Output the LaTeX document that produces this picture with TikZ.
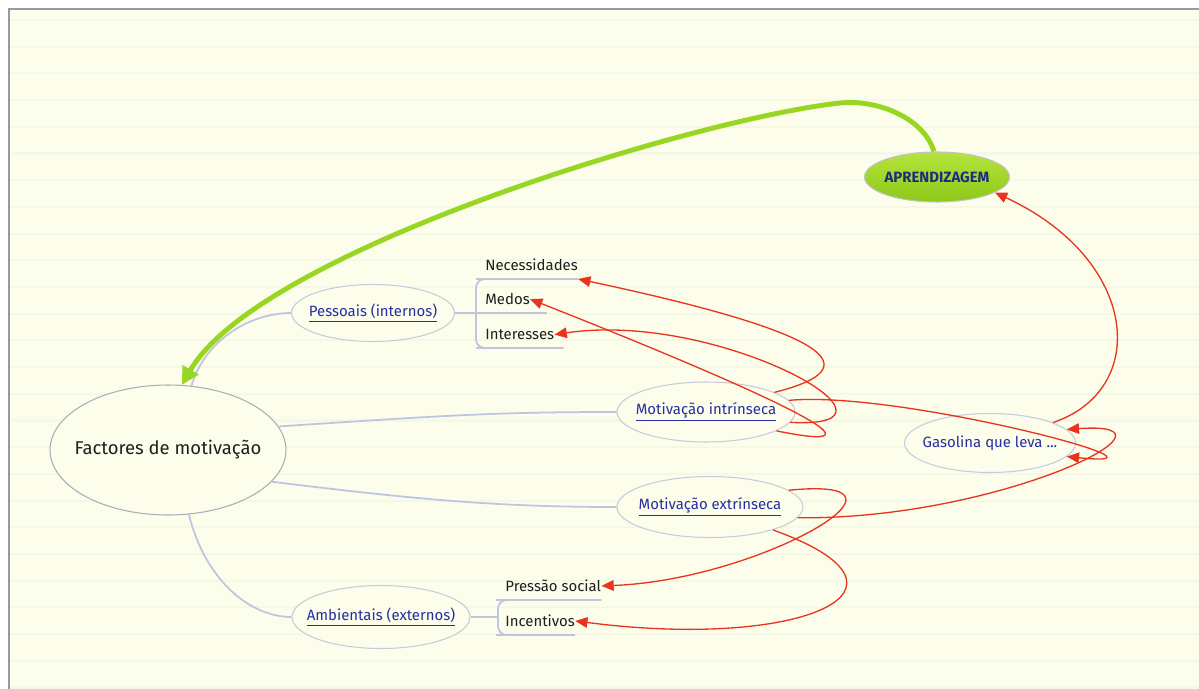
\documentclass[tikz,border=0pt]{standalone}
\usepackage{fontspec}
\setmainfont{Fira Sans}
\usetikzlibrary{positioning,arrows.meta,calc,shapes.geometric}
\definecolor{paper}{RGB}{253,253,236}
\definecolor{ruled}{RGB}{245,247,231}
\definecolor{framec}{RGB}{150,152,165}
\definecolor{rimc}{RGB}{198,202,220}
\definecolor{branchc}{RGB}{190,198,222}
\definecolor{linkc}{RGB}{232,52,30}
\definecolor{learnc}{RGB}{152,214,36}
\definecolor{learntop}{RGB}{182,228,60}
\definecolor{learnbot}{RGB}{140,200,26}
\definecolor{learntext}{RGB}{32,44,120}
\definecolor{topicblue}{RGB}{38,46,160}
\definecolor{ink}{RGB}{30,30,30}
\tikzset{
  topic/.style={ellipse, draw=rimc, fill=paper, line width=0.6pt,
    inner xsep=-0.6cm, inner ysep=0pt, text=topicblue,
    font=\fontsize{8.5}{10}\selectfont},
  leaf/.style={anchor=south west, inner xsep=0pt, inner ysep=4.5pt,
    text depth=0pt, text=ink, font=\fontsize{8.5}{10}\selectfont},
  branch/.style={draw=branchc, line width=1pt},
  link/.style={draw=linkc, line width=0.75pt, -{Triangle[length=7pt,width=6pt]}},
  learn/.style={draw=learnc, line width=2.8pt, -{Triangle[length=10pt,width=10pt]}},
}

\begin{document}
\begin{tikzpicture}[x=0.02cm, y=-0.02cm]

% ------------------------------------------------- paper
\useasboundingbox (0,0) rectangle (1199,689);
\fill[white] (0,0) rectangle (1199,689);
\fill[paper] (9,9) rectangle (1199,689);
\foreach \k in {0,...,25} {
  \draw[ruled, line width=1.2pt] (9,{20+26.7*\k}) -- (1199,{20+26.7*\k});
}
\draw[framec, line width=0.8pt] (1199,9) -- (9,9) -- (9,689);

% ------------------------------------------------- topics
\node[topic, draw=framec!80, minimum width=4.72cm, minimum height=2.6cm,
  text=ink, font=\fontsize{10.5}{12}\selectfont] (fm) at (168,450)
  {Factores de motivação};
\node[topic, minimum width=3.26cm, minimum height=1.14cm] (pes) at (373,313)
  {\underline{Pessoais (internos)}};
\node[topic, minimum width=3.56cm, minimum height=1.2cm] (mi) at (706,412)
  {\underline{Motivação intrínseca}};
\node[topic, minimum width=3.72cm, minimum height=1.22cm] (me) at (710,507)
  {\underline{Motivação extrínseca}};
\node[topic, minimum width=3.56cm, minimum height=1.26cm] (amb) at (381,617)
  {\underline{Ambientais (externos)}};
\node[topic, minimum width=3.42cm, minimum height=1.18cm] (gas) at (990,443)
  {Gasolina que leva ...};
\node[topic, draw=framec!60, top color=learntop, bottom color=learnbot,
  minimum width=2.9cm, minimum height=1cm, text=learntext,
  font=\fontsize{8.5}{10}\selectfont\bfseries] (apr) at (937,177)
  {APRENDIZAGEM};

% ------------------------------------------------- leaves
\node[leaf] (nec) at (485,279) {Necessidades};
\node[leaf] (med) at (485,313) {Medos};
\node[leaf] (int) at (485,348) {Interesses};
\node[leaf] (pre) at (505,600) {Pressão social};
\node[leaf] (inc) at (505,635) {Incentivos};

% ------------------------------------------------- branches
\draw[branch] (fm.70) .. controls (205,340) and (250,313) .. (pes.west);
\draw[branch] (fm.12) .. controls (450,415) and (500,412) .. (mi.west);
\draw[branch] (fm.-17) .. controls (420,500) and (500,507) .. (me.west);
\draw[branch] (fm.-72) .. controls (205,580) and (250,617) .. (amb.west);

\draw[branch, rounded corners=5pt] (nec.south east) -- (nec.south west)
  -- +(-9,0) |- (int.south west) -- ([xshift=0.18cm]int.south east);
\draw[branch] (pes.east) -- (med.south west) -- ([xshift=0.34cm]med.south east);
\draw[branch, rounded corners=5pt] (pre.south east) -- (pre.south west)
  -- +(-7,0) |- (inc.south west) -- (inc.south east);
\draw[branch] (amb.east) -- ($(amb.east -| pre.south west)+(-7,0)$);

% ------------------------------------------------- links
\draw[link] (mi.16) .. controls (855,372) and (865,340) .. (nec.south east);
\draw[link] (mi.-15) .. controls (920,460) and (720,374) .. (med.east);
\draw[link] (mi.-7) .. controls (930,430) and (720,310) .. (int.east);
\draw[link] (mi.8) .. controls (900,390) and (1200,470) .. (gas.-10);
\draw[link] (me.12) .. controls (940,475) and (760,580) .. (pre.east);
\draw[link] (me.-7) .. controls (1000,520) and (1200,420) .. (gas.10);
\draw[link] (me.-20) .. controls (940,590) and (800,650) .. (inc.east);
\draw[link] (gas.18) .. controls (1150,390) and (1140,260) .. (apr.-15);

% ------------------------------------------------- learning loop
\draw[learn] (apr.97) .. controls (925,120) and (880,99) .. (840,103)
  .. controls (700,118) and (260,250) .. (fm.78);

\end{tikzpicture}
\end{document}
